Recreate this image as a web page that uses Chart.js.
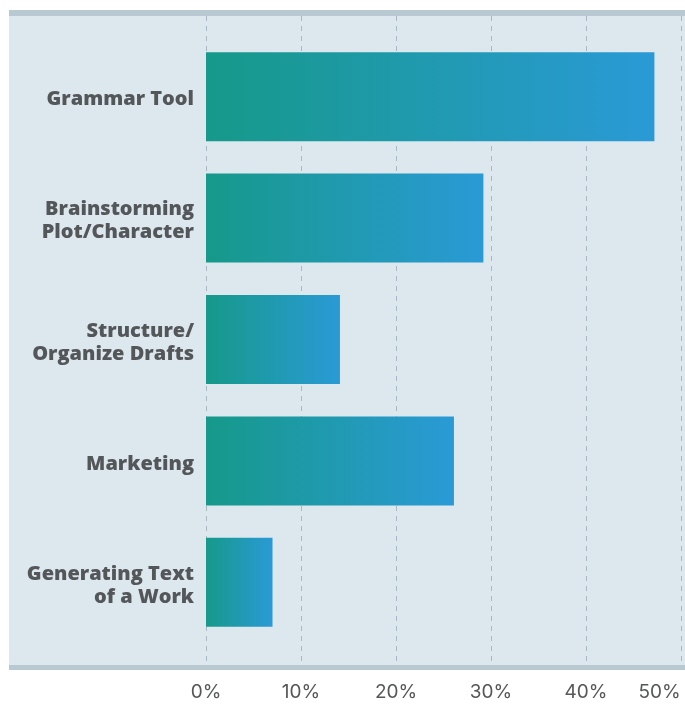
<!DOCTYPE html>
<html>
<head>
<meta charset="utf-8">
<script src="https://cdn.jsdelivr.net/npm/chart.js@4/dist/chart.umd.min.js"></script>
<style>
html,body{margin:0;padding:0;background:#ffffff;}
canvas{display:block;}
</style>
</head>
<body>
<canvas id="c" width="685" height="704"></canvas>
<script>
// Data
const categories = [
  ['Grammar Tool'],
  ['Brainstorming', 'Plot/Character'],
  ['Structure/', 'Organize Drafts'],
  ['Marketing'],
  ['Generating Text', 'of a Work']
];
const values = [47.2, 29.2, 14.1, 26.1, 7.0];
const tickValues = [0, 10, 20, 30, 40, 50];

const bgPlugin = {
  id: 'bgPanel',
  beforeDraw(chart) {
    const ctx = chart.ctx;
    ctx.save();
    ctx.fillStyle = '#dde7ee';
    ctx.fillRect(9, 10, 676, 660);
    ctx.fillStyle = '#b9c9d2';
    ctx.fillRect(9, 10, 676, 6);
    ctx.fillRect(9, 665, 676, 5);
    ctx.restore();
  },
  beforeDatasetsDraw(chart) {
    const ctx = chart.ctx;
    const xs = chart.scales.x;
    ctx.save();
    ctx.strokeStyle = '#a9b9c4';
    ctx.lineWidth = 1;
    ctx.setLineDash([5, 5]);
    xs.ticks.forEach((t, i) => {
      const x = Math.round(xs.getPixelForTick(i)) + 0.5;
      ctx.beginPath();
      ctx.moveTo(x, 16);
      ctx.lineTo(x, 665);
      ctx.stroke();
    });
    ctx.restore();
  }
};

new Chart(document.getElementById('c'), {
  type: 'bar',
  data: {
    labels: categories,
    datasets: [{
      data: values,
      borderWidth: 0,
      categoryPercentage: 1,
      barPercentage: 0.733,
      backgroundColor: (ctx) => {
        const c = ctx.chart;
        const xs = c.scales && c.scales.x;
        if (!xs || ctx.type !== 'data' || !isFinite(xs.getPixelForValue(0))) return '#1f9aa8';
        const x0 = xs.getPixelForValue(0);
        const x1 = xs.getPixelForValue(ctx.raw);
        const g = c.ctx.createLinearGradient(x0, 0, x1, 0);
        g.addColorStop(0, '#16998a');
        g.addColorStop(1, '#2a9ad6');
        return g;
      }
    }]
  },
  options: {
    indexAxis: 'y',
    responsive: false,
    animation: false,
    layout: { padding: { top: 36, right: 4, left: 0, bottom: 0 } },
    plugins: { legend: { display: false }, tooltip: { enabled: false } },
    scales: {
      x: {
        min: 0, max: 50,
        afterBuildTicks(s) { s.ticks = tickValues.map(v => ({ value: v })); },
        afterFit(s) { s.height = 61; s.paddingRight = 0; s.paddingLeft = 0; },
        grid: { display: false, drawTicks: false },
        border: { display: false },
        ticks: {
          padding: 38,
          color: '#555759',
          font: { family: 'Inter', size: 19, weight: '400' },
          maxRotation: 0,
          callback: (v) => v === 50 ? '50%\u00a0\u00a0\u00a0\u00a0\u00a0\u00a0\u00a0\u00a0' : v + '%'
        }
      },
      y: {
        afterFit(s) { s.width = 206; },
        grid: { display: false, drawTicks: false },
        border: { display: false },
        ticks: {
          padding: 12,
          labelOffset: 3,
          color: '#54575a',
          font: { family: "'Open Sans'", size: 20, weight: '800', lineHeight: 1.15 }
        }
      }
    }
  },
  plugins: [bgPlugin]
});
</script>
</body>
</html>
